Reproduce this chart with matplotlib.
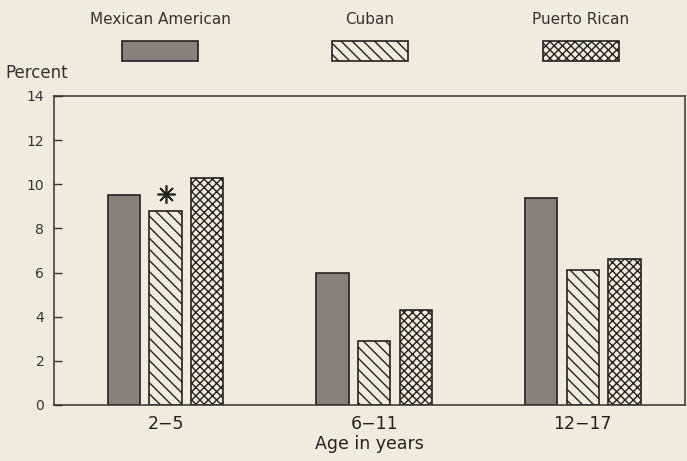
import matplotlib
matplotlib.use("Agg")
import matplotlib.pyplot as plt
from matplotlib.patches import Rectangle
import numpy as np

plt.rcParams['font.family'] = ['DejaVu Sans']
plt.rcParams['hatch.linewidth'] = 1.0

age_groups = ["2\u22125", "6\u221211", "12\u221217"]
series_names = ["Mexican American", "Cuban", "Puerto Rican"]
mexican = [9.5, 6.0, 9.4]
cuban = [8.8, 2.9, 6.1]
puerto_rican = [10.3, 4.3, 6.6]
yticks = [0, 2, 4, 6, 8, 10, 12, 14]

bg = "#f0ebdf"
fills = ["#87827e", bg, bg]
hatches = [None, "\\\\\\", "xxxx"]
values = [mexican, cuban, puerto_rican]

fig = plt.figure(figsize=(6.87, 4.61), dpi=100, facecolor=bg)
ax = fig.add_axes([0.0786, 0.1215, 0.9184, 0.6703])
ax.set_facecolor(bg)

x = np.arange(len(age_groups))
offsets = [-0.2, 0.0, 0.2]
width = 0.155
for vals, off, fc, h in zip(values, offsets, fills, hatches):
    ax.bar(x + off, vals, width=width, color=fc, edgecolor="#222222",
           linewidth=1.2, hatch=h)

# asterisk above Cuban 2-5 bar
ax.plot([x[0] + offsets[1]], [cuban[0] + 0.75], linestyle="none",
        marker=(8, 2, 0), markersize=13, markeredgewidth=1.2,
        color="#222222")

ax.set_xlim(-0.535, 2.49)
ax.set_ylim(0, 14)
ax.set_yticks(yticks)
ax.set_yticklabels([str(t) for t in yticks], fontsize=10, color="#333333")
ax.tick_params(axis="y", direction="in", length=6, width=1, pad=7, color="#333333")
ax.set_xticks(x)
ax.set_xticklabels(age_groups, fontsize=12.5, color="#222222")
ax.tick_params(axis="x", length=0, pad=7)
ax.set_xlabel("Age in years", fontsize=12.5, color="#222222", labelpad=2)
for s in ax.spines.values():
    s.set_color("#333333")
    s.set_linewidth(1.1)

fig.text(5 / 687, 1 - 73 / 461, "Percent", fontsize=12, color="#333333",
         ha="left", va="center")

# legend: label above patch
centers = [160, 370, 581]
for name, cx, fc, h in zip(series_names, centers, fills, hatches):
    fig.text(cx / 687, 1 - 20 / 461, name, fontsize=11, color="#333333",
             ha="center", va="center")
    w, hgt = 76, 20
    r = Rectangle(((cx - w / 2) / 687, 1 - 61 / 461), w / 687, hgt / 461,
                  transform=fig.transFigure, facecolor=fc, edgecolor="#222222",
                  linewidth=1.2, hatch=h)
    fig.add_artist(r)

fig.savefig("out.png", dpi=100, facecolor=bg)
